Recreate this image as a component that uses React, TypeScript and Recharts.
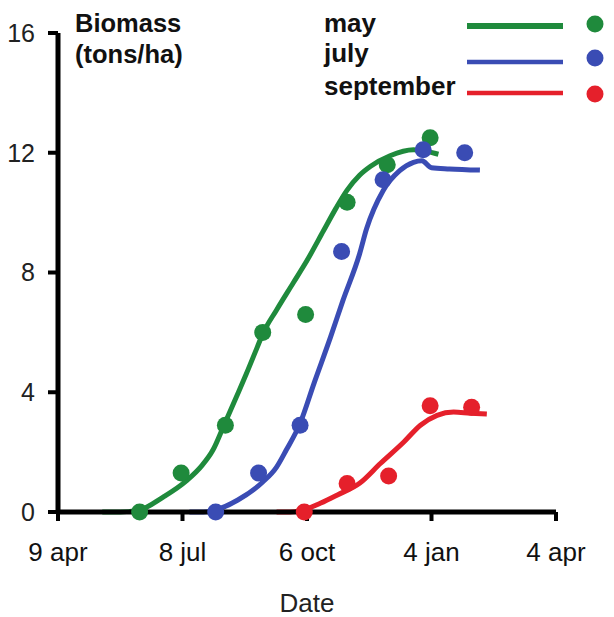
import React from 'react';
import { ComposedChart, Line, Scatter, XAxis, YAxis, Customized } from 'recharts';

const FONT = '"Liberation Sans", Arial, Helvetica, sans-serif';

// x = days since 9 apr
const dateTicks = [0, 90, 180, 270, 360];
const dateLabels = ['9 apr', '8 jul', '6 oct', '4 jan', '4 apr'];
const biomassTicks = [0, 4, 8, 12, 16];

const seriesNames = ['may', 'july', 'september'];
const seriesColors = ['#1f8a3c', '#3a4cb4', '#e5202b'];

const mayFit = [
  { x: 32, y: 0 }, { x: 45, y: 0 }, { x: 59, y: 0.07 }, { x: 76, y: 0.5 }, { x: 93, y: 1.05 },
  { x: 104, y: 1.55 }, { x: 112, y: 2.07 }, { x: 120, y: 2.9 }, { x: 129, y: 3.85 }, { x: 136, y: 4.6 },
  { x: 144, y: 5.5 }, { x: 148, y: 5.95 }, { x: 158, y: 6.75 }, { x: 170, y: 7.65 }, { x: 180, y: 8.4 },
  { x: 192, y: 9.4 }, { x: 201, y: 10.15 }, { x: 209, y: 10.75 }, { x: 218, y: 11.25 }, { x: 226, y: 11.55 },
  { x: 240, y: 11.9 }, { x: 257, y: 12.1 }, { x: 266, y: 12.05 }, { x: 275, y: 11.95 },
];
const julyFit = [
  { x: 95, y: 0 }, { x: 105, y: 0 }, { x: 114, y: 0.07 }, { x: 130, y: 0.4 }, { x: 148, y: 1.0 },
  { x: 158, y: 1.5 }, { x: 165, y: 2.07 }, { x: 175, y: 2.96 }, { x: 185, y: 4.29 }, { x: 197, y: 5.84 },
  { x: 206, y: 7.07 }, { x: 218, y: 8.62 }, { x: 223, y: 9.45 }, { x: 235, y: 10.73 }, { x: 247, y: 11.4 },
  { x: 257, y: 11.68 }, { x: 263, y: 11.73 }, { x: 270, y: 11.5 }, { x: 283, y: 11.46 }, { x: 305, y: 11.42 },
];
const septemberFit = [
  { x: 158, y: 0 }, { x: 168, y: 0 }, { x: 177, y: 0.07 }, { x: 190, y: 0.3 }, { x: 202, y: 0.57 },
  { x: 218, y: 0.96 }, { x: 233, y: 1.62 }, { x: 250, y: 2.34 }, { x: 262, y: 2.9 }, { x: 274, y: 3.23 },
  { x: 286, y: 3.34 }, { x: 298, y: 3.3 }, { x: 310, y: 3.27 },
];

const mayObs = [
  { x: 59, y: 0 }, { x: 89, y: 1.3 }, { x: 121, y: 2.9 }, { x: 148, y: 6.0 },
  { x: 179, y: 6.6 }, { x: 209, y: 10.35 }, { x: 238, y: 11.6 }, { x: 269, y: 12.5 },
];
const julyObs = [
  { x: 114, y: 0 }, { x: 145, y: 1.3 }, { x: 175, y: 2.9 }, { x: 205, y: 8.7 },
  { x: 235, y: 11.1 }, { x: 264, y: 12.1 }, { x: 294, y: 12.0 },
];
const septemberObs = [
  { x: 178, y: 0 }, { x: 209, y: 0.95 }, { x: 239, y: 1.2 }, { x: 269, y: 3.55 }, { x: 299, y: 3.5 },
];

const fits = [mayFit, julyFit, septemberFit];
const observations = [mayObs, julyObs, septemberObs];

const dot = (color: string) => (props: any) => (
  <circle cx={props.cx} cy={props.cy} r={8.5} fill={color} />
);

const Annotations = () => {
  const rowBase = [32, 62, 95];
  const lineY = [26, 62, 93];
  const dotY = [24, 58, 94];
  const lineW = [6, 4.5, 4.5];
  return (
    <g>
      <text x={75} y={32} fontFamily={FONT} fontSize={25.5} fontWeight="bold" fill="#111">Biomass</text>
      <text x={75} y={63} fontFamily={FONT} fontSize={25.5} fontWeight="bold" fill="#111">(tons/ha)</text>
      {seriesNames.map((n, i) => (
        <g key={n}>
          <text x={324} y={rowBase[i]} fontFamily={FONT} fontSize={26} fontWeight="bold" fill="#111">{n}</text>
          <line x1={467} x2={563} y1={lineY[i]} y2={lineY[i]} stroke={seriesColors[i]} strokeWidth={lineW[i]} />
          <circle cx={595} cy={dotY[i]} r={8.5} fill={seriesColors[i]} />
        </g>
      ))}
    </g>
  );
};

export default function App() {
  return (
    <>
      <style>{'body{margin:0;}'}</style>
      <ComposedChart width={614} height={617} margin={{ top: 33, right: 58, bottom: 0, left: 0 }}>
        <XAxis
          dataKey="x"
          type="number"
          domain={[0, 360]}
          ticks={dateTicks}
          tickFormatter={(v: number) => dateLabels[dateTicks.indexOf(v)]}
          height={105}
          axisLine={{ stroke: '#000', strokeWidth: 5 }}
          tickLine={{ stroke: '#000', strokeWidth: 4 }}
          tickSize={9}
          tickMargin={22}
          tick={{ fill: '#111', fontSize: 26, fontFamily: FONT }}
          interval={0}
          allowDataOverflow
          label={{ value: 'Date', position: 'insideBottom', offset: 5, fill: '#222', fontSize: 26, fontFamily: FONT }}
        />
        <YAxis
          type="number"
          domain={[0, 16]}
          ticks={biomassTicks}
          width={58}
          axisLine={{ stroke: '#000', strokeWidth: 5 }}
          tickLine={{ stroke: '#000', strokeWidth: 4 }}
          tickSize={10}
          tickMargin={13}
          tick={{ fill: '#222', fontSize: 25, fontFamily: FONT }}
          interval={0}
        />
        {fits.map((d, i) => (
          <Line
            key={'fit-' + seriesNames[i]}
            data={d}
            dataKey="y"
            type="monotone"
            stroke={seriesColors[i]}
            strokeWidth={5}
            dot={false}
            activeDot={false}
            isAnimationActive={false}
          />
        ))}
        {observations.map((d, i) => (
          <Scatter
            key={'obs-' + seriesNames[i]}
            data={d}
            dataKey="y"
            fill={seriesColors[i]}
            shape={dot(seriesColors[i])}
            isAnimationActive={false}
          />
        ))}
        <Customized component={Annotations} />
      </ComposedChart>
    </>
  );
}
